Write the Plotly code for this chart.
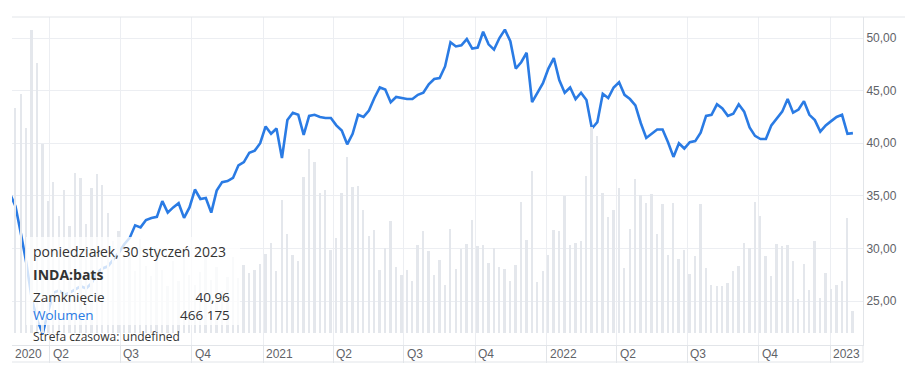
import pandas as pd
import plotly.graph_objects as go

# ---- data (weekly, INDA:bats) ----
start_date = "2020-02-10"
close = [35.2, 34.0, 31.4, 28.6, 25.2, 23.2, 21.9, 24.0, 25.8, 26.0, 25.6, 25.8,
         26.1,
         26.4, 26.2, 26.7, 27.7, 28.1, 28.3, 28.9, 29.6, 30.4, 31.0, 32.2, 32.0,
         32.7, 32.9, 33.0, 34.5, 33.4, 33.9, 34.3, 32.9, 33.9, 35.6, 34.7, 34.8,
         33.4, 35.5, 36.3, 36.4, 36.7, 37.9, 38.2, 39.1,
         39.3, 40.0, 41.6, 40.9, 41.4, 38.6, 42.2, 42.9, 42.7, 40.8, 42.6, 42.7,
         42.5, 42.4, 42.4, 41.7, 41.2, 39.9, 40.9, 42.7, 42.5, 43.1, 44.3, 45.3,
         45.1, 43.9, 44.4, 44.3, 44.2, 44.2, 44.6, 44.8, 45.6, 46.1, 46.2, 47.3,
         49.6, 49.2, 49.3, 49.9, 49.0, 49.1, 50.6, 49.4, 48.9, 50.0, 50.8, 49.7,
         47.1, 47.7, 48.6, 43.9, 44.8, 45.7, 47.1, 48.1, 46.0, 44.8, 45.3, 44.2,
         44.8, 44.1, 41.4, 42.0, 44.7, 44.3, 45.3, 45.8, 44.6, 44.2, 43.6, 41.9,
         40.5, 40.9, 41.3, 41.3, 40.1, 38.7, 40.0, 39.5, 40.1, 40.2, 41.0, 42.6,
         42.7, 43.7, 43.3, 42.6, 42.8, 43.7, 43.0, 41.5, 40.7, 40.4, 40.4, 41.7,
         42.4, 43.0, 44.2, 42.9, 43.2, 44.0, 42.7, 42.2, 41.1, 41.7, 42.1, 42.5,
         42.7, 40.9, 40.96]

volume_k = [4494, 4749, 5046, 4325, 6402, 5703, 3986, 2798, 3201, 2480, 3032, 2268,
            3371, 3286, 2310, 3074, 3350, 3138, 2544, 1950, 2162, 1632, 1738, 1314,
            1990, 1420, 1208, 1760, 1330, 996, 1526, 1102, 1650, 1220, 1010, 1290,
            1710, 1120, 1400, 890, 1190, 1610, 1166, 1440, 1272,
            1336, 1463, 1675, 1908, 1314, 2820, 2099, 1654, 1526, 3307,
            3880, 3604, 2968, 3032, 1760, 2014, 2950, 3710, 3095, 3116,
            2608, 2056, 2184, 1340, 1802, 2374, 1399, 1215, 1330, 1100,
            1866, 2160, 1740, 1230, 1548, 1018, 2205, 1357, 1781, 1887,
            2380, 1844, 1870, 1484, 1800, 1405, 1360, 1105, 1442, 2777,
            1955, 3413, 1081, 1318, 1650, 2180, 2165, 2904, 1862, 1905,
            1948, 3328, 4346, 4155, 2965, 2459, 2605, 3070, 1378, 2188,
            3244, 2926, 2756, 2947, 2095, 2735, 1658, 2738, 1569, 1762,
            1251, 1635, 2730, 1380, 1015, 996, 999, 1060, 1312, 1422,
            1910, 1805, 2775, 2480, 1630, 1210, 1885, 1846, 1864, 1528,
            721, 1460, 912, 1952, 742, 1275, 933, 1020, 1098, 2438,
            466.175]

assert len(close) == len(volume_k) == 156
dates = pd.date_range(start_date, periods=len(close), freq="7D")

tick_dates = ["2020-04-01", "2020-07-01", "2020-10-01", "2021-01-01", "2021-04-01",
              "2021-07-01", "2021-10-01", "2022-01-01", "2022-04-01", "2022-07-01",
              "2022-10-01", "2023-01-01"]
tick_text = ["Q2", "Q3", "Q4", "2021", "Q2", "Q3", "Q4", "2022", "Q2", "Q3", "Q4", "2023"]
first_label = "2020"
y_ticks = [25, 30, 35, 40, 45, 50]

# ---- style ----
LINE = "#2a7be4"
BAR = "#e4e7ec"
GRID = "#eceef2"
AXIS = "#e2e5e9"
TXT = "#333333"
LBL = "#5f6368"
AX_FONT = "Liberation Sans, Arial, sans-serif"
TT_FONT = "Open Sans, Roboto, Arial, sans-serif"

# page body has an 8px margin; size the figure to fit the 920x384 window
BODY = 8
W, H = 920 - 2 * BODY, 384 - 2 * BODY
# target plot area in screen pixels
SX0, SX1, SY0, SY1 = 12, 863, 17, 345
ML, MT = SX0 - BODY, SY0 - BODY
MR, MB = W - (SX1 - BODY), H - (SY1 - BODY)
PW, PH = SX1 - SX0, SY1 - SY0


def px(xs):
    return (xs - SX0) / PW


def py(ys):
    return (SY1 - ys) / PH


fig = go.Figure()
fig.add_trace(go.Bar(x=dates, y=volume_k, yaxis="y2", marker_color=BAR,
                     marker_line_width=0, width=2.4 * 86400000, name="Wolumen",
                     hoverinfo="skip"))
fig.add_trace(go.Scatter(x=dates, y=close, mode="lines",
                         line=dict(color=LINE, width=2.6), name="INDA:bats"))

fig.update_layout(
    width=W, height=H,
    margin=dict(l=ML, r=MR, t=MT, b=MB),
    paper_bgcolor="white", plot_bgcolor="white",
    showlegend=False, separators=", ",
    bargap=0,
    xaxis=dict(type="date", range=["2020-02-12 12:00", "2023-02-12"],
               tickvals=tick_dates, showticklabels=False,
               ticks="outside", ticklen=17, tickcolor=AXIS, tickwidth=1,
               showgrid=True, gridcolor=GRID, gridwidth=1,
               showline=True, linecolor=AXIS, linewidth=1, zeroline=False),
    yaxis=dict(side="right", range=[20.82, 52.0], tickvals=y_ticks,
               tickformat=".2f", showgrid=True, gridcolor=GRID, gridwidth=1,
               showline=True, linecolor=AXIS, linewidth=1, ticks="",
               zeroline=False, tickfont=dict(family=AX_FONT, size=12, color=LBL)),
    yaxis2=dict(overlaying="y", range=[-254, 6678], visible=False,
                showgrid=False, zeroline=False),
)

# frame lines
fig.add_shape(type="line", xref="paper", yref="paper", x0=0, x1=px(905), y0=1, y1=1,
              line=dict(color=AXIS, width=1))
fig.add_shape(type="line", xref="paper", yref="paper", x0=0, x1=1, y0=py(362), y1=py(362),
              line=dict(color=AXIS, width=1))
fig.add_shape(type="line", xref="paper", yref="paper", x0=1, x1=1, y0=py(362), y1=0,
              line=dict(color=AXIS, width=1))

# x labels (left aligned right of each quarter tick)
fig.add_annotation(x=px(13), y=py(354), xref="paper", yref="paper", text=first_label,
                   showarrow=False, xanchor="left", yanchor="middle",
                   font=dict(family=AX_FONT, size=12, color=LBL))
for d, t in zip(tick_dates, tick_text):
    fig.add_annotation(x=d, y=py(354), xref="x", yref="paper", text=t, showarrow=False,
                       xanchor="left", yanchor="middle", xshift=1,
                       font=dict(family=AX_FONT, size=12, color=LBL))

# tooltip overlay
fig.add_shape(type="rect", xref="paper", yref="paper", x0=px(26), x1=px(240),
              y0=py(325), y1=py(237), fillcolor="rgba(255,255,255,0.78)",
              line=dict(width=0), layer="above")

days_pl = ["poniedziałek", "wtorek", "środa", "czwartek", "piątek", "sobota", "niedziela"]
months_pl = ["styczeń", "luty", "marzec", "kwiecień", "maj", "czerwiec", "lipiec",
             "sierpień", "wrzesień", "październik", "listopad", "grudzień"]
last = dates[-1]
date_txt = f"{days_pl[last.weekday()]}, {last.day} {months_pl[last.month - 1]} {last.year}"
close_txt = f"{close[-1]:.2f}".replace(".", ",")
vol_int = int(round(volume_k[-1] * 1000))
vol_txt = f"{vol_int:,}".replace(",", " ")


def tt(text, xs, ys, anchor="left", color=TXT, size=14, align="left"):
    fig.add_annotation(x=px(xs), y=py(ys), xref="paper", yref="paper", text=text,
                       showarrow=False, xanchor=anchor, yanchor="middle", align=align,
                       font=dict(family=TT_FONT, size=size, color=color))


tt(date_txt, 31, 251)
tt("<b>INDA:bats</b>", 31, 274)
tt(f"Zamknięcie<br><span style='color:{LINE}'>Wolumen</span>", 31, 305.5, size=13.5)
tt(f"{close_txt}<br>{vol_txt}", 232, 305.5, anchor="right", size=13.5, align="right")
tt("Strefa czasowa: undefined", 31, 336, size=12)

fig.write_html("out.html")
